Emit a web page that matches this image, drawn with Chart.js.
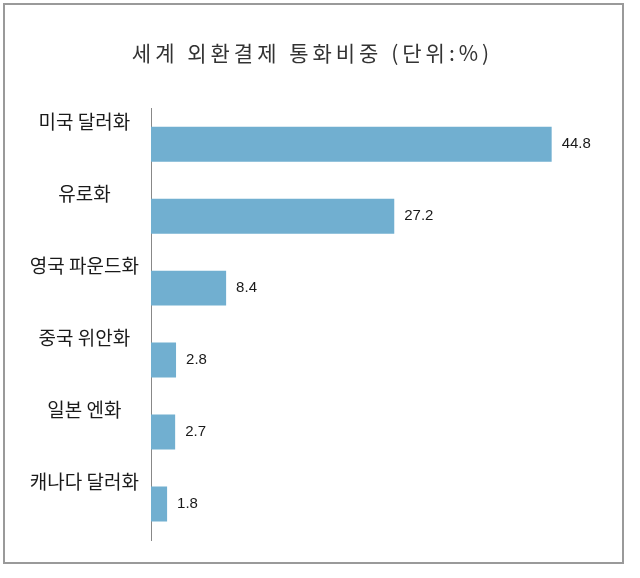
<!DOCTYPE html>
<html><head><meta charset="utf-8">
<script src="https://cdn.jsdelivr.net/npm/chart.js@4.4.0/dist/chart.umd.min.js"></script>
<style>
html,body{margin:0;padding:0;background:#fff;}
#wrap{position:relative;width:640px;height:578px;}
#frame{position:absolute;left:3px;top:3px;width:617px;height:557px;border:2px solid #9a9a9a;pointer-events:none;}
canvas{position:absolute;left:0;top:0;}
</style></head><body>
<div id="wrap"><canvas id="c" width="640" height="578"></canvas><div id="frame"></div></div>
<script>
const categories = ['미국 달러화', '유로화', '영국 파운드화', '중국 위안화', '일본 엔화', '캐나다 달러화'];
const values = [44.8, 27.2, 8.4, 2.8, 2.7, 1.8];
const titleText = '세계 외환결제 통화비중 (단위:%)';

const titleSpacing = {
  id: 'titleSpacing',
  beforeDraw(chart) {
    const tb = chart.titleBlock;
    if (tb && !tb._patched) {
      const orig = tb.draw;
      tb.draw = function (...a) {
        const ctx = this.ctx;
        ctx.save();
        ctx.letterSpacing = '4px';
        orig.apply(this, a);
        ctx.restore();
      };
      tb._patched = true;
    }
  }
};

const valueLabels = {
  id: 'valueLabels',
  afterDatasetsDraw(chart) {
    const ctx = chart.ctx;
    const meta = chart.getDatasetMeta(0);
    ctx.save();
    ctx.font = '15px "Liberation Sans", Arial, sans-serif';
    ctx.fillStyle = '#1a1a1a';
    ctx.textAlign = 'left';
    ctx.textBaseline = 'middle';
    meta.data.forEach((el, i) => {
      ctx.fillText(String(values[i]), el.x + 10, el.y);
    });
    ctx.restore();
  }
};

new Chart(document.getElementById('c'), {
  type: 'bar',
  data: {
    labels: categories,
    datasets: [{
      data: values,
      backgroundColor: '#71afd0',
      borderWidth: 0,
      categoryPercentage: 1,
      barPercentage: 0.486
    }]
  },
  options: {
    indexAxis: 'y',
    responsive: false,
    devicePixelRatio: 1,
    animation: false,
    layout: { padding: { left: 0, right: 15, top: 0, bottom: 38 } },
    plugins: {
      legend: { display: false },
      tooltip: { enabled: false },
      title: {
        display: true,
        text: titleText,
        color: '#333',
        font: { family: '"Noto Sans CJK KR", sans-serif', size: 21, weight: 'normal', lineHeight: 1.2 },
        padding: { top: 40, bottom: 43 }
      }
    },
    scales: {
      x: { display: false, min: 0, max: 53 },
      y: {
        grid: { display: false, drawTicks: false },
        border: { display: true, color: '#888', width: 1 },
        afterFit(scale) { scale.width = 151; },
        ticks: {
          crossAlign: 'center',
          padding: 12,
          labelOffset: -22,
          color: '#1a1a1a',
          font: { family: '"Noto Sans CJK KR", sans-serif', size: 19 }
        }
      }
    }
  },
  plugins: [titleSpacing, valueLabels]
});
</script>
</body></html>
